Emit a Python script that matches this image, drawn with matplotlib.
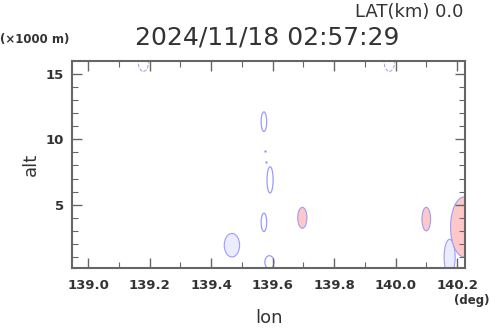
import matplotlib
matplotlib.use("Agg")
from matplotlib import pyplot as plt
from matplotlib.patches import Ellipse
import numpy as np

# echo features: center lon, center alt, width (deg), height (km)
red_lon = [139.697, 140.100, 140.224]
red_alt = [4.0, 3.9, 3.3]
red_w = [0.030, 0.028, 0.09]
red_h = [1.6, 1.8, 4.6]

blue_fill_lon = [139.468, 140.176]
blue_fill_alt = [1.9, 1.0]
blue_fill_w = [0.05, 0.036]
blue_fill_h = [1.8, 2.7]

ring_lon = [139.572, 139.592, 139.572, 139.590]
ring_alt = [11.35, 6.9, 3.65, 0.6]
ring_w = [0.018, 0.02, 0.018, 0.03]
ring_h = [1.5, 2.0, 1.4, 1.0]

top_lon = [139.18, 139.98]
top_alt = [16.0, 16.0]
top_w = [0.035, 0.035]
top_h = [1.6, 1.6]

xticks = [139.0, 139.2, 139.4, 139.6, 139.8, 140.0, 140.2]
yticks = [5, 10, 15]

fill_red = "#ffc8c8"
fill_blue = "#ececff"
line_blue = "#9b9bff"
dark = "#333333"

fig = plt.figure(figsize=(4.9, 3.31), dpi=100)
ax = fig.add_axes([0.147, 0.19, 0.802, 0.626])

for x, y, w, h in zip(blue_fill_lon, blue_fill_alt, blue_fill_w, blue_fill_h):
    ax.add_patch(Ellipse((x, y), w, h, facecolor=fill_blue, edgecolor=line_blue, lw=0.8))
for x, y, w, h in zip(red_lon, red_alt, red_w, red_h):
    ax.add_patch(Ellipse((x, y), w, h, facecolor=fill_red, edgecolor=line_blue, lw=0.8))
for x, y, w, h in zip(ring_lon, ring_alt, ring_w, ring_h):
    ax.add_patch(Ellipse((x, y), w, h, facecolor="none", edgecolor=line_blue, lw=0.9))
for x, y, w, h in zip(top_lon, top_alt, top_w, top_h):
    ax.add_patch(Ellipse((x, y), w, h, facecolor="none", edgecolor=line_blue, lw=0.7, ls="--"))
ax.plot([139.576, 139.578], [9.1, 8.3], ".", color=line_blue, ms=1.5)

ax.set_xticks(xticks)
ax.set_xticklabels(["%.1f" % v for v in xticks])
ax.set_yticks(yticks)
ax.set_xticks(np.arange(139.0, 140.25, 0.1), minor=True)
ax.set_yticks(np.arange(1, 16, 1), minor=True)
ax.set_xlim(138.948, 140.226)
ax.set_ylim(0.15, 16.0)
ax.tick_params(which="both", direction="in", top=True, right=True, colors="#666666",
               labelcolor=dark)
ax.tick_params(which="major", length=7, width=1)
ax.tick_params(which="minor", length=4, width=0.8)
ax.tick_params(axis="x", pad=8)
ax.tick_params(axis="y", pad=6)
for lab in ax.get_xticklabels() + ax.get_yticklabels():
    lab.set_fontweight("bold")
    lab.set_fontsize(9.5)
for s in ax.spines.values():
    s.set_color("#666666")
    s.set_linewidth(1.5)

ax.set_xlabel("lon", fontsize=13, color=dark, labelpad=12)
ax.set_ylabel("alt", fontsize=13, color=dark, labelpad=4)

fig.text(0.945, 0.965, "LAT(km) 0.0", ha="right", va="center", fontsize=13, color=dark)
fig.text(0.546, 0.888, "2024/11/18 02:57:29", ha="center", va="center", fontsize=18, color=dark)
fig.text(0.0, 0.882, "(×1000 m)", ha="left", va="center", fontsize=8.5, fontweight="bold", color=dark)
fig.text(0.999, 0.093, "(deg)", ha="right", va="center", fontsize=8.5, fontweight="bold", color=dark)

fig.savefig("out.png", dpi=100)
